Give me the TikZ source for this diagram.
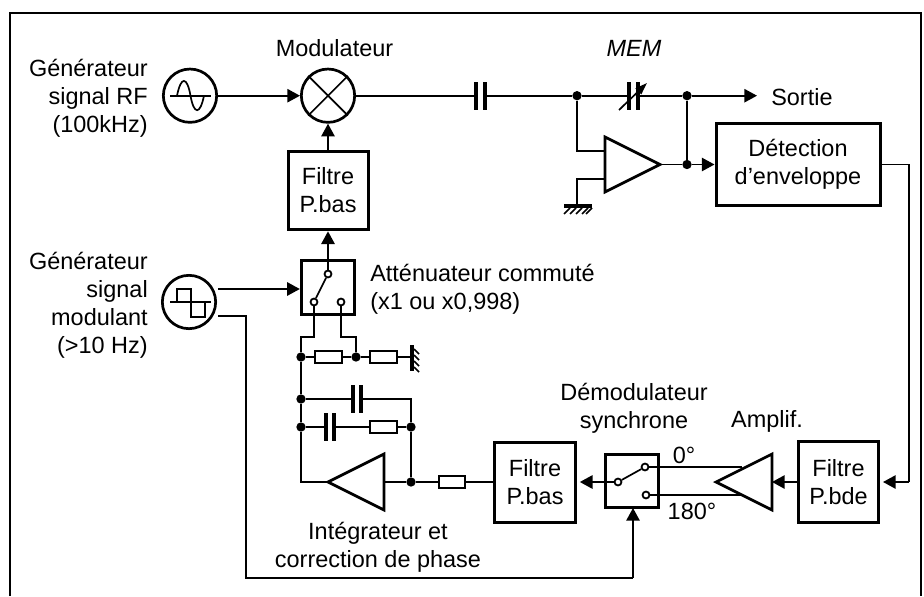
\documentclass[tikz,border=0pt]{standalone}
\usepackage{fontspec}
\setmainfont{Liberation Sans}
\usetikzlibrary{arrows.meta}
\tikzset{
  wire/.style={line width=1.7pt*0.75},
  thick line/.style={line width=2.6pt*0.75},
  plate/.style={line width=3.6pt*0.75},
  flow/.style={wire,-{Triangle[length=9.5pt,width=10pt]}},
  blockbox/.style={draw,line width=3pt*0.75,align=center,inner sep=0pt,font=\fontsize{17.6}{21}\selectfont},
  circlebox/.style={draw,circle,line width=2.7pt*0.75,minimum size=40pt,inner sep=0pt},
  dotnode/.style={circle,fill=black,inner sep=0pt,minimum size=7pt},
  contact/.style={circle,draw,line width=1.8pt*0.75,fill=white,inner sep=0pt,minimum size=5.2pt},
  res/.style={draw,wire,fill=white,minimum width=20pt,minimum height=9pt,inner sep=0pt},
  txt/.style={font=\fontsize{17.6}{21}\selectfont,inner sep=0pt},
  ampshape/.style={line width=2.7pt*0.75,fill=white,line join=miter}
}
\begin{document}
\begin{tikzpicture}[x=0.75pt,y=-0.75pt]
\useasboundingbox (0,0) rectangle (924,596);
% frame
\coordinate (fa) at (10,596);\coordinate (fb) at (10,13);\coordinate (fc) at (921,13);\coordinate (fd) at (921,596);
\draw[thick line] (fa)--(fb)--(fc)--(fd);
% top row
\node[circlebox] (rf) at (190,95.7) {};
\node[circlebox] (mod) at (328,95.7) {};
\draw[wire] (mod.45)--(mod.225) (mod.135)--(mod.315);
\draw[wire] (170,95.7)--(211,95.7);
\draw[wire] (177,95.7) .. controls (181,76) and (187,76) .. (190.5,95.7) .. controls (194,115) and (200,115) .. (204,95.7);
\draw[flow] (rf)--(mod);
\node[blockbox,minimum width=60pt,minimum height=59pt] (fb1) at (328,190.5) {Filtre\\P.bas};
\draw[flow] (fb1)--(mod);
\node[txt] (tmod) at (334.5,48) {Modulateur};
\node[txt,align=right,anchor=east] (trf) at (148,98) {Générateur\\signal RF\\(100kHz)};
% output
\coordinate (c1l) at (476,95.7);\coordinate (c1r) at (485,95.7);
\node[dotnode] (n1) at (577,95.7) {};
\node[dotnode] (n2) at (687,95.7) {};
\node[dotnode] (n3) at (687,164.5) {};
\coordinate (c2l) at (629,95.7);\coordinate (c2r) at (638,95.7);
\coordinate (sortie) at (757,95.7);
\draw[wire] (mod)--(c1l) (c1r)--(n1)--(c2l) (c2r)--(n2);
\draw[flow] (n2)--(sortie);
\draw[plate] (476,82)--(476,110) (485,82)--(485,110) (629,82)--(629,110) (638,82)--(638,110);
\draw[wire,-{Triangle[length=9pt,width=6pt]}] (619,110)--(647,83);
\node[txt,font=\fontsize{17.6}{21}\selectfont\itshape] (tmem) at (634,48) {MEM};
\node[txt,anchor=west] (tsort) at (771,97) {Sortie};
\node[blockbox,minimum width=123pt,minimum height=61pt] (det) at (798,164.5) {Détection\\d’enveloppe};
% amp 1
\coordinate (a1a) at (605,137);\coordinate (a1b) at (605,192);\coordinate (a1c) at (660,164.5);
\draw[wire] (n1)--(577,151)--(605,151);
\coordinate (gnd1) at (577,205);
\draw[wire] (gnd1)--(577,179)--(605,179);
\draw[ampshape] (a1a)--(a1c)--(a1b)--cycle;
\draw[wire] (a1c)--(n3);
\draw[wire] (n2)--(n3);
\draw[flow] (n3)--(det.west|-n3);
\fill (564,204) rectangle (592,208);
\draw[wire] (570,208)--(564,214) (576,208)--(570,214) (582,208)--(576,214) (588,208)--(582,214) (592,208)--(586,214);
% modulating generator
\node[circlebox] (sq) at (189,302) {};
\draw[wire] (170,302)--(211,302);
\draw[wire] (177,302)--(177,289)--(191,289)--(191,317)--(205,317)--(205,302);
\node[txt,align=right,anchor=east] (tsq) at (148,305) {Générateur\\signal\\modulant\\(>10 Hz)};
% switch
\node[blockbox,minimum width=40pt,minimum height=40pt] (sw) at (328,287.5) {};
\node[contact] (k0) at (328,274) {};
\node[contact] (k1) at (314,302) {};
\node[contact] (k2) at (341,302) {};
\draw[flow] (k0)--(fb1.south);
\coordinate (sqo1) at (218,289);\coordinate (sqo2) at (218,316);
\draw[flow] (sqo1)--(sw.west|-sqo1);
\draw[wire] (k1)--(k0);
\node[txt,align=left,anchor=west] (tatt) at (370,289) {Atténuateur commuté\\(x1 ou x0,998)};
% network
\node[dotnode] (j1) at (301,357) {};
\node[dotnode] (j2) at (356,357) {};
\node[dotnode] (j3) at (301,399) {};
\node[dotnode] (j4) at (301,427) {};
\node[dotnode] (j5) at (411,427) {};
\node[dotnode] (j6) at (411,482) {};
\node[res] (r1) at (328.5,357) {};
\node[res] (r2) at (383.5,357) {};
\node[res] (r3) at (383.5,427) {};
\node[res] (r4) at (452,482) {};
\coordinate (g2) at (413,357);
\draw[wire] (k1)--(314,337)--(301,337)--(j1);
\draw[wire] (k2)--(341,337)--(356,337)--(j2);
\draw[wire] (j1)--(r1)--(j2)--(r2)--(g2);
\fill (410,345) rectangle (414,371);
\draw[wire] (414,349)--(419,354) (414,355)--(419,360) (414,361)--(419,366) (414,367)--(419,372);
\draw[wire] (j1)--(j3)--(j4)--(301,482)--(328,482);
\draw[wire] (j3)--(353,399) (361,399)--(411,399)--(j5)--(j6);
\draw[wire] (j4)--(326,427) (334,427)--(r3)--(j5);
\draw[plate] (353,385)--(353,413) (361,385)--(361,413) (326,413)--(326,441) (334,413)--(334,441);
\draw[ampshape] (384,454)--(328,482)--(384,510)--cycle;
\draw[wire] (384,482)--(j6)--(r4);
\node[txt,align=center] (tint) at (378,547) {Intégrateur et\\correction de phase};
% bottom row
\node[blockbox,minimum width=61pt,minimum height=60pt] (fb2) at (535,482) {Filtre\\P.bas};
\draw[wire] (r4)--(fb2);
\node[blockbox,minimum width=39.5pt,minimum height=39.5pt] (dem) at (632,481) {};
\node[contact] (d0) at (618,482) {};
\node[contact] (d1) at (645,467) {};
\node[contact] (d2) at (646,495) {};
\draw[wire] (d0)--(d1);
\draw[flow,shorten >=2pt] (d0)--(fb2);
\draw[wire] (d1)--(742,467) (d2)--(742,495);
\draw[ampshape] (772,454)--(716,482)--(772,510)--cycle;
\node[blockbox,minimum width=60.5pt,minimum height=60.5pt] (fbd) at (838.5,482) {Filtre\\P.bde};
\draw[flow] (fbd.west)--(772,482);
\coordinate (rt) at (909,164.5);
\draw[wire] (det.east)--(rt)--(909,482);
\draw[flow,shorten >=2pt] (909,482)--(fbd.east);
\node[txt] (t0) at (684,455) {0°};
\node[txt] (t180) at (692,511) {180°};
\node[txt,align=center] (tdem) at (634,408) {Démodulateur\\synchrone};
\node[txt] (tamp) at (767,421) {Amplif.};
\draw[wire] (sqo2)--(246,316)--(246,578)--(633,578);
\draw[flow] (633,578)--(633,508);
\end{tikzpicture}
\end{document}
